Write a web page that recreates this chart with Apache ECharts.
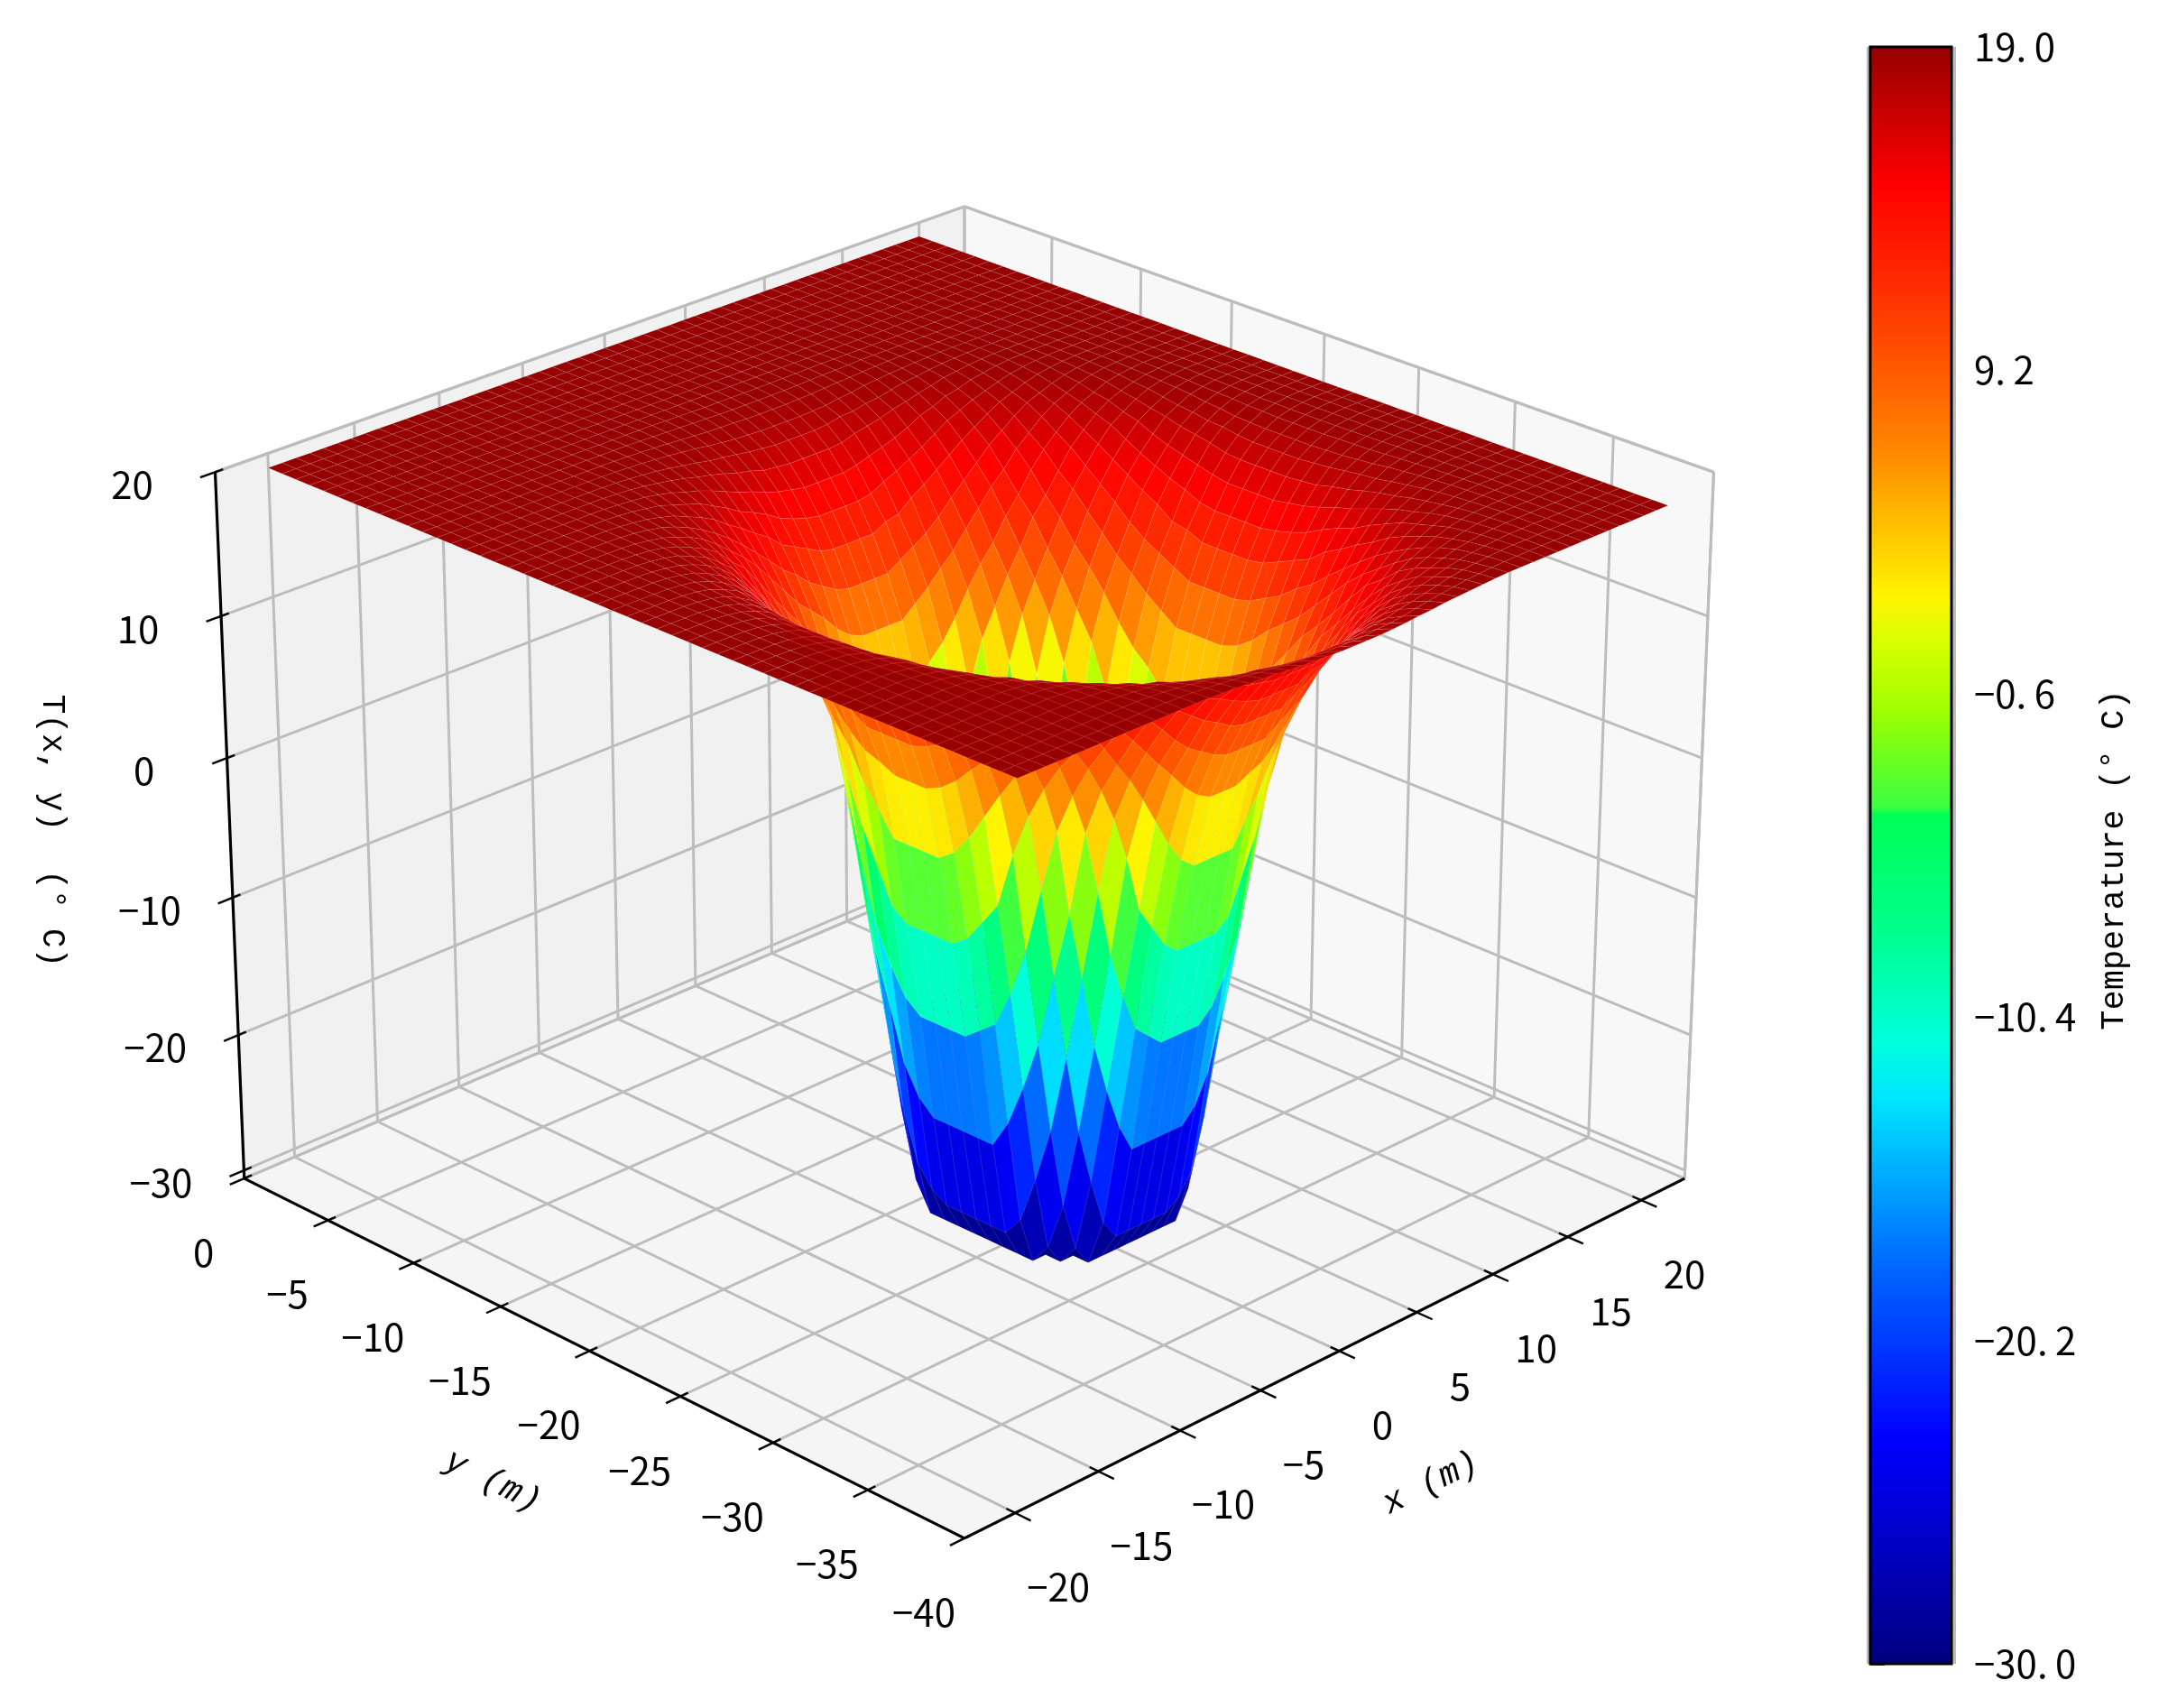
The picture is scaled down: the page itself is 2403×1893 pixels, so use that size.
<!DOCTYPE html>
<html><head><meta charset="utf-8">
<style>html,body{margin:0;padding:0;background:#fff}#c{width:2403px;height:1893px}</style>
<script src="https://cdn.jsdelivr.net/npm/echarts@6/dist/echarts.min.js"></script>
</head><body><div id="c"></div>
<script>
// ---------- data ----------
const xTicks = [-20,-15,-10,-5,0,5,10,15,20];
const yTicks = [0,-5,-10,-15,-20,-25,-30,-35,-40];
const zTicks = [-30,-20,-10,0,10,20];
const colorbarTicks = [-30,-20.2,-10.4,-0.6,9.2,19];
const gridX = [-20,-19.2,-18.4,-17.6,-16.8,-16,-15.2,-14.4,-13.6,-12.8,-12,-11.2,-10.4,-9.6,-8.8,-8,-7.2,-6.4,-5.6,-4.8,-4,-3.2,-2.4,-1.6,-0.8,0,0.8,1.6,2.4,3.2,4,4.8,5.6,6.4,7.2,8,8.8,9.6,10.4,11.2,12,12.8,13.6,14.4,15.2,16,16.8,17.6,18.4,19.2,20];
const gridY = [0,-0.8,-1.6,-2.4,-3.2,-4,-4.8,-5.6,-6.4,-7.2,-8,-8.8,-9.6,-10.4,-11.2,-12,-12.8,-13.6,-14.4,-15.2,-16,-16.8,-17.6,-18.4,-19.2,-20,-20.8,-21.6,-22.4,-23.2,-24,-24.8,-25.6,-26.4,-27.2,-28,-28.8,-29.6,-30.4,-31.2,-32,-32.8,-33.6,-34.4,-35.2,-36,-36.8,-37.6,-38.4,-39.2,-40];
// temperature against distance from the pit axis, read from the silhouette and colour bands:
// one value per 0.1 m of radius, from 4.7 m to 18 m
const pitCentre = [0.25,-24.55];
const profileStart = 4.7, profileStep = 0.1;
const profileTemp = [-30,-29.5,-29,-28.5,-28,-27.3,-26.6,-25.8,-25,-24.1,-23.2,-22.2,-21.2,-20.2,-19.2,-18.2,-17.2,-16.2,-15.3,-14.4,-13.5,-12.6,-11.7,-10.8,-10,-9.1,-8.2,-7.4,-6.5,-5.7,-4.9,-4.1,-3.3,-2.5,-1.7,-0.9,-0.1,0.7,1.5,2.2,3,3.6,4.1,4.6,5.1,5.6,6,6.5,6.9,7.3,7.7,8.1,8.4,8.8,9.1,9.4,9.7,10,10.3,10.6,10.9,11.2,11.5,11.8,12,12.3,12.5,12.8,13,13.3,13.5,13.7,13.9,14.2,14.4,14.6,14.8,15,15.2,15.3,15.5,15.7,15.8,16,16.1,16.3,16.4,16.6,16.7,16.8,17,17.1,17.2,17.3,17.4,17.5,17.6,17.7,17.8,17.85,17.9,18,18.05,18.1,18.15,18.2,18.3,18.35,18.4,18.45,18.5,18.55,18.6,18.62,18.65,18.7,18.72,18.75,18.78,18.8,18.82,18.84,18.86,18.88,18.9,18.91,18.92,18.93,18.94,18.95,18.96,18.97,18.98,19];
const colorStops = [[0,0,0,128],[0.14,0,0,255],[0.243,0,100,255],[0.318,0,190,255],[0.35,0,230,255],[0.385,0,255,220],[0.455,0,255,140],[0.525,0,255,85],[0.53,60,255,65],[0.59,160,255,0],[0.63,215,255,0],[0.659,255,245,0],[0.755,255,130,0],[0.85,255,45,0],[0.915,255,0,0],[1,150,0,0]];

// ---------- camera ----------
const lim = {x:[-23,23], y:[-40,0], z:[-30.6,20]};
const cam = {elev:25, dist:16, f:9210, cx:1069, cy:922.4, zHalf:0.75};
const cE = Math.cos(cam.elev*Math.PI/180), sE = Math.sin(cam.elev*Math.PI/180), R2 = Math.SQRT2;
function camSpace(x,y,z){
  const X=(x-(lim.x[0]+lim.x[1])/2)/((lim.x[1]-lim.x[0])/2);
  const Y=(y-(lim.y[0]+lim.y[1])/2)/((lim.y[1]-lim.y[0])/2);
  const Z=(z-(lim.z[0]+lim.z[1])/2)/((lim.z[1]-lim.z[0])/2)*cam.zHalf;
  const d=-(X+Y)/R2, l=(X-Y)/R2;
  return {l, v:-d*sE+Z*cE, depth:cam.dist-(d*cE+Z*sE)};
}
function project(x,y,z){const p=camSpace(x,y,z);return [cam.cx+cam.f*p.l/p.depth, cam.cy-cam.f*p.v/p.depth];}

// ---------- surface table looked up from the profile ----------
// the deep contours in the picture are squarer than circles, so the radius metric squares off with depth
function pitRadius(dx,dy){
  const r=Math.hypot(dx,dy);
  if(r>=9) return r;
  const p=2+(9-r)/9*2.2;
  return Math.pow(Math.pow(Math.abs(dx),p)+Math.pow(Math.abs(dy),p),1/p);
}
function tempAt(x,y){
  const r=pitRadius(x-pitCentre[0],y-pitCentre[1]);
  const k=Math.round((r-profileStart)/profileStep);
  return k<0?profileTemp[0]:k>=profileTemp.length?19:profileTemp[k];
}
const table = gridY.map(y=>gridX.map(x=>tempAt(x,y)));
function colorFor(t){
  const f=Math.max(0,Math.min(1,(t+30)/49));
  for(let i=1;i<colorStops.length;i++){
    const a=colorStops[i-1],b=colorStops[i];
    if(f<=b[0]){const k=(f-a[0])/(b[0]-a[0]);
      return `rgb(${Math.round(a[1]+k*(b[1]-a[1]))},${Math.round(a[2]+k*(b[2]-a[2]))},${Math.round(a[3]+k*(b[3]-a[3]))})`;}
  }
  return 'rgb(150,0,0)';
}
const cells=[];
for(let j=0;j<gridY.length-1;j++)for(let i=0;i<gridX.length-1;i++){
  const t=(table[j][i]+table[j][i+1]+table[j+1][i+1]+table[j+1][i])/4;
  const c=camSpace((gridX[i]+gridX[i+1])/2,(gridY[j]+gridY[j+1])/2,t);
  cells.push([i,j,t,c.depth]);
}
cells.sort((a,b)=>b[3]-a[3]);

// ---------- frame geometry in data units ----------
const [x0,x1]=lim.x,[y0,y1]=lim.y,[z0,z1]=lim.z;
const panes=[
  {pts:[[x0,y1,z0],[x1,y1,z0],[x1,y1,z1],[x0,y1,z1]],fill:'#f1f1f1'},
  {pts:[[x1,y1,z0],[x1,y0,z0],[x1,y0,z1],[x1,y1,z1]],fill:'#f8f8f8'},
  {pts:[[x0,y0,z0],[x1,y0,z0],[x1,y1,z0],[x0,y1,z0]],fill:'#f5f5f5'}
];
const greySegs=[];
xTicks.forEach(x=>{greySegs.push([[x,y1,z0],[x,y1,z1]],[[x,y0,z0],[x,y1,z0]]);});
yTicks.forEach(y=>{greySegs.push([[x1,y,z0],[x1,y,z1]],[[x0,y,z0],[x1,y,z0]]);});
zTicks.forEach(z=>{greySegs.push([[x0,y1,z],[x1,y1,z]],[[x1,y1,z],[x1,y0,z]]);});
greySegs.push([[x0,y1,z1],[x1,y1,z1]],[[x1,y1,z1],[x1,y0,z1]],[[x1,y1,z0],[x1,y1,z1]],[[x1,y0,z0],[x1,y0,z1]],[[x0,y1,z0],[x1,y1,z0]],[[x1,y1,z0],[x1,y0,z0]]);
const blackSegs=[[[x0,y1,z0],[x0,y1,z1]],[[x0,y1,z0],[x0,y0,z0]],[[x0,y0,z0],[x1,y0,z0]]];
xTicks.forEach(x=>blackSegs.push([[x,y0-0.8,z0],[x,y0+0.45,z0]]));
yTicks.forEach(y=>blackSegs.push([[x0-0.85,y,z0],[x0+0.45,y,z0]]));
zTicks.forEach(z=>blackSegs.push([[x0-0.85,y1,z],[x0+0.45,y1,z]]));
const minus=v=>String(v).replace('-','\u2212');
const texts=[];
xTicks.forEach(x=>{const p=project(x,y0,z0);texts.push({s:minus(x),p:[p[0]+48,p[1]+82],size:42});});
yTicks.forEach(y=>{const p=project(x0,y,z0);texts.push({s:minus(y),p:[p[0]-45,p[1]+82],size:42});});
zTicks.forEach(z=>{const p=project(x0,y1,z);texts.push({s:minus(z),p:[p[0]-92,p[1]+14],size:42});});
texts.push({s:'x (m)',p:[1586,1644],size:38,rot:0.46,italic:true,mono:true});
texts.push({s:'y (m)',p:[546,1642],size:38,rot:-0.46,italic:true,mono:true});
texts.push({s:'T(x, y)  (\u00b0 C)',p:[58,921],size:36,rot:-Math.PI/2,mono:true});
texts.push({s:'Temperature (\u00b0 C)',p:[2343,953],size:37,rot:Math.PI/2,mono:true});

const poly=(api,pts,style)=>({type:'polygon',shape:{points:pts.map(p=>api.coord(project(p[0],p[1],p[2])))},style});
const seg=(api,s,stroke,w)=>{const a=api.coord(project(...s[0])),b=api.coord(project(...s[1]));
  return {type:'line',shape:{x1:a[0],y1:a[1],x2:b[0],y2:b[1]},style:{stroke,lineWidth:w,fill:null}};};
const idx=a=>a.map((_,i)=>[i]);
const base={type:'custom',coordinateSystem:'cartesian2d',xAxisIndex:0,yAxisIndex:0,silent:true,clip:false,progressive:0,animation:false,encode:{x:0,y:0}};

const chart=echarts.init(document.getElementById('c'),null,{renderer:'canvas',width:2403,height:1893});
chart.setOption({
  animation:false,backgroundColor:'#fff',
  grid:[{left:0,top:0,width:2403,height:1893,containLabel:false},{left:2073,top:52,width:90,height:1792,containLabel:false}],
  xAxis:[{type:'value',min:0,max:2403,show:false},{type:'value',min:0,max:1,show:false,gridIndex:1}],
  yAxis:[{type:'value',min:0,max:1893,inverse:true,show:false},
    {type:'value',gridIndex:1,min:-30,max:19,position:'right',splitLine:{show:false},axisLine:{show:false},
     axisTick:{show:true,length:16,lineStyle:{color:'#000',width:2.5},customValues:colorbarTicks},
     axisLabel:{show:true,margin:25,color:'#000',fontSize:42,fontFamily:'"Noto Sans CJK SC"',customValues:colorbarTicks,
       formatter:v=>v.toFixed(1).replace('-','\u2212').replace('.','.\u2009')}}],
  series:[
    Object.assign({},base,{name:'panes',data:idx(panes),z:1,renderItem:(p,api)=>poly(api,panes[p.dataIndex].pts,{fill:panes[p.dataIndex].fill})}),
    Object.assign({},base,{name:'grid',data:idx(greySegs),z:2,renderItem:(p,api)=>seg(api,greySegs[p.dataIndex],'#bdbdbd',3)}),
    Object.assign({},base,{name:'axes',data:idx(blackSegs),z:3,renderItem:(p,api)=>seg(api,blackSegs[p.dataIndex],'#000',p.dataIndex<3?3.2:2.4)}),
    Object.assign({},base,{name:'T(x, y)',data:cells.map(c=>[c[0],c[1]]),z:4,renderItem:(p,api)=>{
      const c=cells[p.dataIndex],i=c[0],j=c[1];
      return poly(api,[[gridX[i],gridY[j],table[j][i]],[gridX[i+1],gridY[j],table[j][i+1]],[gridX[i+1],gridY[j+1],table[j+1][i+1]],[gridX[i],gridY[j+1],table[j+1][i]]],{fill:colorFor(c[2]),stroke:'rgba(255,255,255,0.13)',lineWidth:0.7});
    }}),
    Object.assign({},base,{name:'labels',data:idx(texts),z:5,renderItem:(p,api)=>{
      const t=texts[p.dataIndex],a=api.coord(t.p);
      return {type:'text',x:a[0],y:a[1],rotation:t.rot||0,style:{text:t.s,align:'center',verticalAlign:'middle',fill:'#000',
        font:`${t.italic?'italic ':''}${t.size}px ${t.mono?'"Liberation Mono"':'"Noto Sans CJK SC"'}`}};
    }}),
    {type:'custom',name:'colorbar',coordinateSystem:'cartesian2d',xAxisIndex:1,yAxisIndex:1,silent:true,clip:false,animation:false,
     data:[[0,-30]],encode:{x:0,y:1},z:2,renderItem:(p,api)=>{
      const a=api.coord([0,19]),b=api.coord([1,-30]);
      return {type:'group',children:[
        {type:'rect',shape:{x:a[0]-4,y:a[1],width:b[0]-a[0]+9,height:b[1]-a[1]},style:{fill:'#bdbdbd'}},
        {type:'rect',shape:{x:a[0],y:a[1],width:b[0]-a[0],height:b[1]-a[1]},
         style:{stroke:'#000',lineWidth:3,fill:new echarts.graphic.LinearGradient(0,1,0,0,colorStops.map(s=>({offset:s[0],color:`rgb(${s[1]},${s[2]},${s[3]})`})))}}
      ]};
     }}
  ]
});
</script></body></html>
